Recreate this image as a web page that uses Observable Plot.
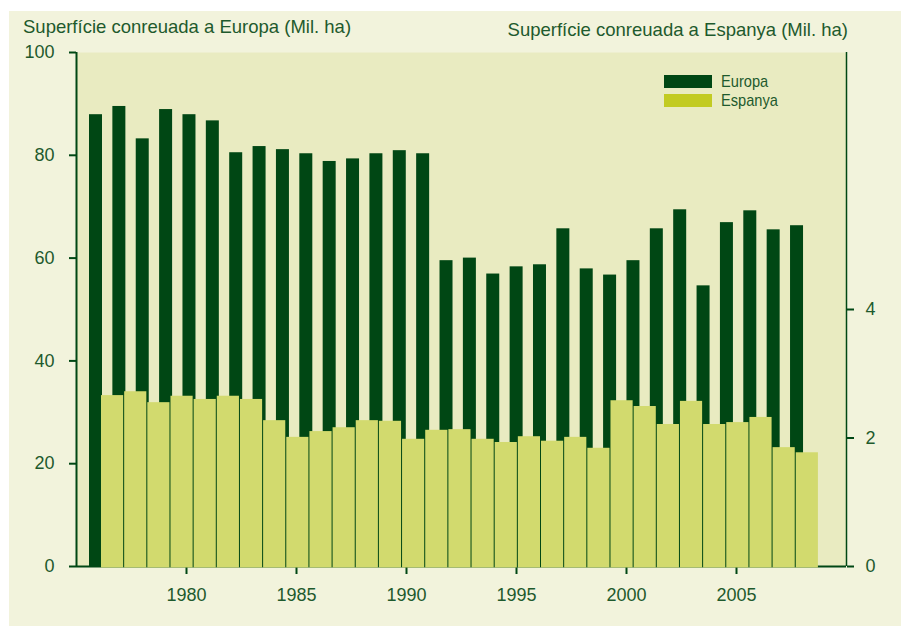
<!DOCTYPE html>
<html>
<head>
<meta charset="utf-8">
<script src="https://cdn.jsdelivr.net/npm/d3@7"></script>
<script src="https://cdn.jsdelivr.net/npm/@observablehq/plot@0.6"></script>
<style>
  html, body { margin: 0; padding: 0; background: #fff; }
  #wrap { position: relative; width: 901px; height: 626px; overflow: hidden; font-family: "Liberation Sans", Arial, sans-serif; color: #1e5a2d; }
  #panel { position: absolute; left: 9px; top: 11px; width: 892px; height: 615px; background: #f2f3dc; }
  #wrap svg { position: absolute; left: 0; top: 0; }
  .title { position: absolute; font-size: 18.5px; line-height: 18px; white-space: nowrap; }
  .sw { position: absolute; width: 48px; height: 13px; }
  .lg { position: absolute; font-size: 17px; line-height: 17px; white-space: nowrap; transform: scaleX(0.86); transform-origin: 0 0; }
</style>
</head>
<body>
<div id="wrap">
  <div id="panel"></div>
</div>
<script>
// ---- data ----
const years = [1977,1978,1979,1980,1981,1982,1983,1984,1985,1986,1987,1988,1989,1990,1991,1992,1993,1994,1995,1996,1997,1998,1999,2000,2001,2002,2003,2004,2005,2006,2007];
const europa = [87.9,89.5,83.2,88.9,87.9,86.7,80.5,81.7,81.1,80.3,78.8,79.3,80.3,80.9,80.3,59.5,60.0,56.9,58.3,58.7,65.7,57.9,56.7,59.5,65.7,69.4,54.6,66.9,69.2,65.5,66.3];
const espanya = [2.66,2.72,2.55,2.65,2.60,2.65,2.60,2.27,2.01,2.10,2.16,2.27,2.26,1.98,2.12,2.13,1.98,1.93,2.02,1.95,2.01,1.84,2.58,2.49,2.21,2.57,2.21,2.24,2.32,1.85,1.77];
const xTicks = [1980,1985,1990,1995,2000,2005];
const yLeftTicks = [0,20,40,60,80,100];
const yRightTicks = [0,2,4];
const titleLeft = "Superfície conreuada a Europa (Mil. ha)";
const titleRight = "Superfície conreuada a Espanya (Mil. ha)";
const seriesNames = ["Europa", "Espanya"];

// ---- styles ----
const W = 901, H = 626;
const M = {marginLeft: 76, marginRight: 55, marginTop: 52, marginBottom: 60};
const dark = "#004714", light = "#d2da6e", lightLegend = "#c2cb22", txt = "#1e5a2d";
const baseStyle = {background: "transparent", fontFamily: "Liberation Sans, Arial, sans-serif", overflow: "visible"};

const eData = years.map((y, i) => ({year: y, value: europa[i]}));
const sData = years.map((y, i) => ({year: y, value: espanya[i]}));

const wrap = document.getElementById("wrap");

// Base layer: plot background, axes
const base = Plot.plot({
  width: W, height: H, ...M, style: baseStyle,
  x: {type: "linear", domain: [1975, 2010]},
  y: {domain: [0, 100]},
  marks: [
    Plot.frame({fill: "#e9ebc1", stroke: null}),
    Plot.ruleY([0], {stroke: dark, strokeWidth: 2}),
    Plot.ruleX([1975], {stroke: dark, strokeWidth: 2}),
    Plot.ruleX([2010], {stroke: dark, strokeWidth: 1.5}),
    Plot.axisX({ticks: xTicks, tickSize: 8, tickFormat: () => "", stroke: dark, strokeWidth: 2, label: null}),
    Plot.axisX({ticks: xTicks, tickSize: 0, tickPadding: 22, tickFormat: d => String(d), fontSize: 18, fill: txt, label: null}),
    Plot.axisY({ticks: yLeftTicks, tickSize: 7, tickFormat: () => "", stroke: dark, strokeWidth: 2, label: null}),
    Plot.axisY({ticks: yLeftTicks, tickSize: 0, tickPadding: 22, tickFormat: d => String(d), fontSize: 18, fill: txt, label: null})
  ]
});
wrap.appendChild(base);

// Europe bars (left scale)
const eu = Plot.plot({
  width: W, height: H, ...M, style: baseStyle,
  x: {type: "band", domain: years, range: [78.63, 813.4], padding: 0.4437, round: false, axis: null},
  y: {domain: [0, 100], axis: null},
  marks: [
    Plot.barY(eData, {x: "year", y: "value", fill: dark})
  ]
});
wrap.appendChild(eu);

// Spain bars (right scale)
const es = Plot.plot({
  width: W, height: H, ...M, style: baseStyle,
  x: {type: "band", domain: years, range: [100, 818.9], padding: 0.0432, round: false, axis: null},
  y: {domain: [0, 8]},
  marks: [
    Plot.barY(sData, {x: "year", y: "value", fill: light, insetBottom: -1.5}),
    Plot.axisY({anchor: "right", ticks: yRightTicks, tickSize: 7, tickFormat: () => "", stroke: dark, strokeWidth: 2, label: null}),
    Plot.axisY({anchor: "right", ticks: yRightTicks, tickSize: 0, tickPadding: 19, tickFormat: d => String(d), fontSize: 18, fill: txt, label: null})
  ]
});
wrap.appendChild(es);

// Titles
function addDiv(cls, text, css) {
  const d = document.createElement("div");
  d.className = cls;
  if (text) d.textContent = text;
  Object.assign(d.style, css);
  wrap.appendChild(d);
  return d;
}
addDiv("title", titleLeft, {left: "23px", top: "18px"});
addDiv("title", titleRight, {right: "53px", top: "21px"});

// Legend
addDiv("sw", "", {left: "664px", top: "75px", background: dark});
addDiv("sw", "", {left: "664px", top: "94px", background: lightLegend});
addDiv("lg", seriesNames[0], {left: "721px", top: "73px"});
addDiv("lg", seriesNames[1], {left: "721px", top: "92px"});
</script>
</body>
</html>
